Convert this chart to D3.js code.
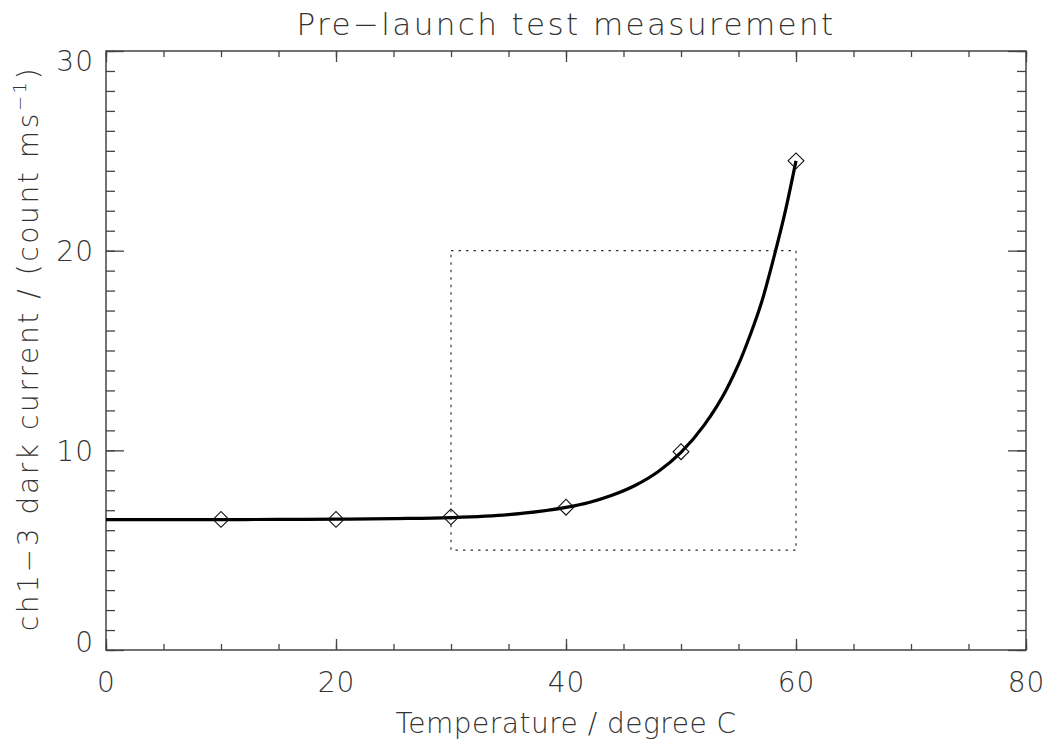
<!DOCTYPE html>
<html>
  <head>
    <meta charset="utf-8" />
    <title>Pre-launch test measurement</title>
    <script src="https://d3js.org/d3.v7.min.js"></script>
    <style>
      body { margin: 0; background: #fff; }
      text { font-family: "DejaVu Sans", sans-serif; font-weight: 200; fill: #333; }
    </style>
  </head>
  <body>
    <svg id="chart" width="1051" height="740"></svg>
    <script>
        // measured points
        var tempC = [10, 20, 30, 40, 50, 60];
        var darkCurrent = [6.54, 6.54, 6.67, 7.15, 9.93, 24.5];

        // fitted curve
        var fitTemp = [0, 5, 10, 15, 20, 25, 30, 35, 40, 42, 44, 46, 48, 50, 52, 54, 55, 56, 57, 58, 59, 60];
        var fitCurrent = [6.53, 6.53, 6.53, 6.54, 6.55, 6.58, 6.63, 6.78, 7.14, 7.39, 7.75, 8.24, 8.93, 9.9, 11.25, 13.1, 14.3, 15.75, 17.4, 19.5, 21.8, 24.5];

        // dotted region
        var boxTemp = [30, 60];
        var boxCurrent = [5, 20];

        var xTicks = [0, 20, 40, 60, 80];
        var yTicks = [0, 10, 20, 30];

        var margin = {left: 106, top: 51, right: 25, bottom: 90};
        var W = 1051, H = 740;
        var w = W - margin.left - margin.right;
        var h = H - margin.top - margin.bottom;

        var svg = d3.select("#chart");
        var g = svg.append("g").attr("transform", "translate(" + margin.left + "," + margin.top + ")");

        var x = d3.scaleLinear().domain([0, 80]).range([0, w]);
        var y = d3.scaleLinear().domain([0, 30]).range([h, 0]);

        var axisColor = "#444";

        function styleAxis(sel) {
            sel.select(".domain").remove();
            sel.selectAll(".tick line").attr("stroke", axisColor).attr("stroke-width", 1.3);
        }

        // minor ticks
        var xMinor = d3.range(0, 81, 5);
        var yMinor = d3.range(0, 31, 1);

        g.append("g").attr("transform", "translate(0," + h + ")")
          .call(d3.axisBottom(x).tickValues(xMinor).tickSize(-6).tickFormat(""))
          .call(styleAxis);
        g.append("g")
          .call(d3.axisTop(x).tickValues(xMinor).tickSize(-6).tickFormat(""))
          .call(styleAxis);
        g.append("g")
          .call(d3.axisLeft(y).tickValues(yMinor).tickSize(-9).tickFormat(""))
          .call(styleAxis);
        g.append("g").attr("transform", "translate(" + w + ",0)")
          .call(d3.axisRight(y).tickValues(yMinor).tickSize(-9).tickFormat(""))
          .call(styleAxis);

        // major ticks
        var xb = g.append("g").attr("transform", "translate(0," + h + ")")
          .call(d3.axisBottom(x).tickValues(xTicks).tickSize(-11).tickPadding(0).tickFormat(d3.format("d")))
          .call(styleAxis);
        xb.selectAll(".tick text")
          .attr("y", 42).attr("dy", 0)
          .style("font-size", "28px").style("font-family", null).style("letter-spacing", "1px");
        g.append("g")
          .call(d3.axisTop(x).tickValues(xTicks).tickSize(-11).tickFormat(""))
          .call(styleAxis);
        var yl = g.append("g")
          .call(d3.axisLeft(y).tickValues(yTicks).tickSize(-18).tickFormat(d3.format("d")))
          .call(styleAxis);
        yl.selectAll(".tick text")
          .attr("x", -12)
          .attr("dy", function(d) {
              // keep end labels inside the frame
              var p = y(d);
              var c = Math.min(Math.max(p, 9), h - 9);
              return (c - p + 10) + "px";
          })
          .style("font-size", "28px").style("font-family", null).style("letter-spacing", "1px");
        g.append("g").attr("transform", "translate(" + w + ",0)")
          .call(d3.axisRight(y).tickValues(yTicks).tickSize(-18).tickFormat(""))
          .call(styleAxis);

        // frame
        g.append("rect")
          .attr("width", w).attr("height", h)
          .attr("fill", "none").attr("stroke", axisColor).attr("stroke-width", 1.5);

        // dotted box
        g.append("rect")
          .attr("x", x(boxTemp[0])).attr("y", y(boxCurrent[1]))
          .attr("width", x(boxTemp[1]) - x(boxTemp[0]))
          .attr("height", y(boxCurrent[0]) - y(boxCurrent[1]))
          .attr("fill", "none").attr("stroke", "#333").attr("stroke-width", 1.2)
          .attr("stroke-dasharray", "2.5,5");

        // fit curve
        var line = d3.line()
          .x(function(d, i) { return x(fitTemp[i]); })
          .y(function(d, i) { return y(fitCurrent[i]); })
          .curve(d3.curveMonotoneX);
        g.append("path")
          .datum(fitTemp)
          .attr("d", line)
          .attr("fill", "none").attr("stroke", "#000").attr("stroke-width", 3.2);

        // diamonds
        var diamond = d3.symbol().type(d3.symbolSquare).size(125);
        g.selectAll(".pt")
          .data(tempC)
          .enter().append("path")
          .attr("class", "pt")
          .attr("d", diamond)
          .attr("transform", function(d, i) {
              return "translate(" + x(d) + "," + y(darkCurrent[i]) + ") rotate(45)";
          })
          .attr("fill", "none").attr("stroke", "#111").attr("stroke-width", 1.1);

        // titles
        svg.append("text")
          .attr("x", margin.left + w / 2).attr("y", 35)
          .attr("text-anchor", "middle")
          .style("font-size", "31px").style("letter-spacing", "2.4px")
          .text("Pre\u2212launch test measurement");

        svg.append("text")
          .attr("x", margin.left + w / 2).attr("y", 733)
          .attr("text-anchor", "middle")
          .style("font-size", "28px").style("letter-spacing", "0.5px")
          .text("Temperature / degree C");

        var yt = svg.append("text")
          .attr("transform", "translate(38," + (margin.top + h / 2 - 2) + ") rotate(-90)")
          .attr("text-anchor", "middle")
          .style("font-size", "28px").style("letter-spacing", "2.6px");
        yt.append("tspan").text("ch1\u22123 dark current / (count ms");
        yt.append("tspan").attr("dy", -12).style("font-size", "18px").text("\u22121");
        yt.append("tspan").attr("dy", 12).text(")");
    </script>
  </body>
</html>
